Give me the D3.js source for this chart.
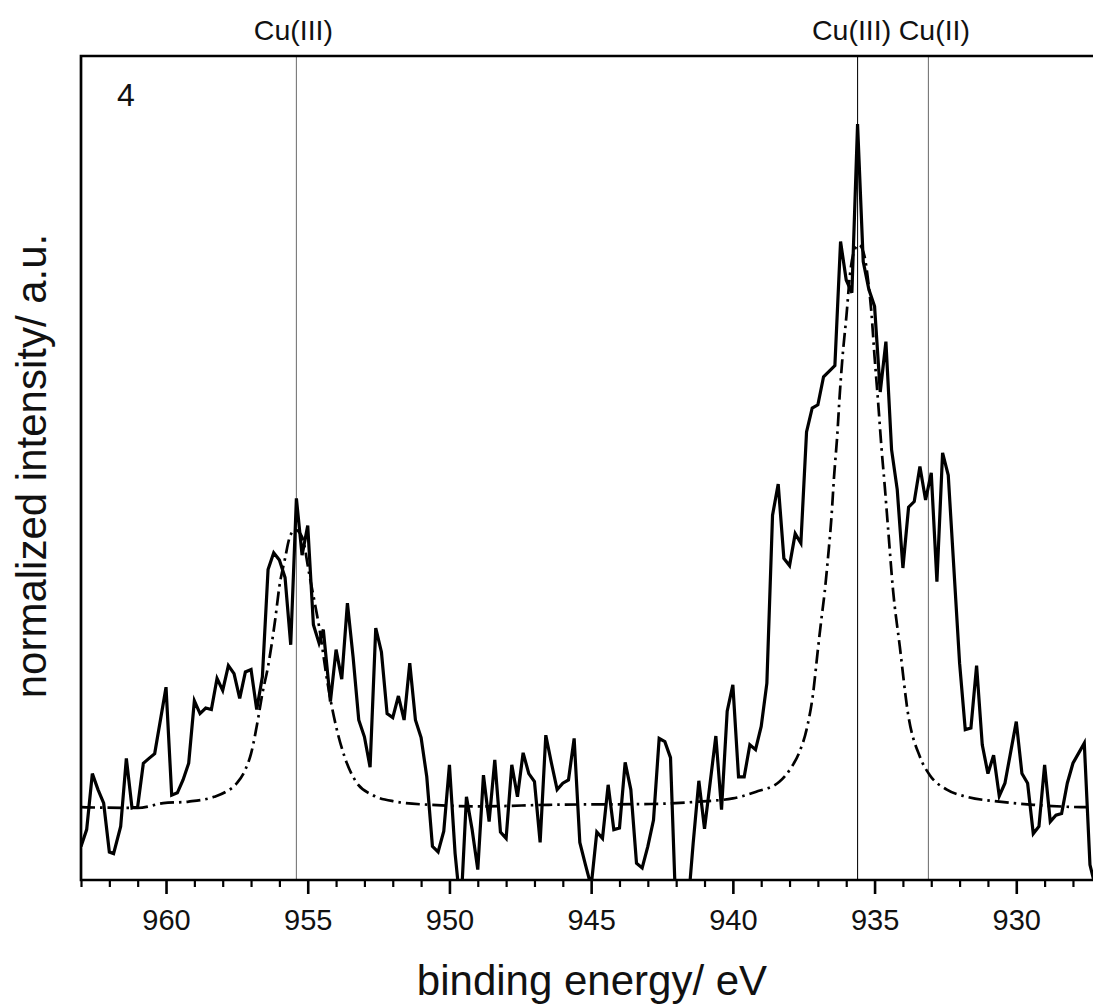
<!DOCTYPE html>
<html lang="en">
<head>
<meta charset="utf-8">
<script src="https://cdn.jsdelivr.net/npm/d3@7/dist/d3.min.js"></script>
<style>
  body { margin: 0; background: #fff; }
  svg { display: block; font-family: "Liberation Sans", Arial, sans-serif; }
</style>
</head>
<body>
<script>
// measured spectrum (binding energy in eV, normalized intensity a.u.)
var energy = [
  963.0, 962.8, 962.6, 962.4, 962.2, 962.0, 961.85, 961.6, 961.4, 961.2,
  961.0, 960.8, 960.6, 960.4, 960.0, 959.8, 959.6, 959.4, 959.2, 959.0,
  958.8, 958.6, 958.4, 958.2, 958.0, 957.8, 957.6, 957.4, 957.2, 957.0,
  956.8, 956.6, 956.4, 956.2, 956.0, 955.8, 955.6, 955.4, 955.2, 955.0,
  954.8, 954.6, 954.45, 954.2, 954.0, 953.8, 953.6, 953.4, 953.2, 953.0,
  952.8, 952.6, 952.4, 952.2, 952.0, 951.8, 951.6, 951.4, 951.2, 951.0,
  950.8, 950.6, 950.4, 950.2, 950.0, 949.8, 949.6, 949.4, 949.2, 949.0,
  948.8, 948.6, 948.4, 948.2, 948.0, 947.8, 947.6, 947.4, 947.2, 947.0,
  946.8, 946.6, 946.4, 946.2, 946.0, 945.8, 945.6, 945.4, 945.2, 945.0,
  944.8, 944.6, 944.4, 944.2, 944.0, 943.8, 943.6, 943.4, 943.2, 943.0,
  942.8, 942.6, 942.4, 942.2, 942.0, 941.6, 941.4, 941.2, 941.0, 940.6,
  940.4, 940.2, 940.0, 939.8, 939.6, 939.4, 939.2, 939.0, 938.8, 938.6,
  938.4, 938.2, 938.0, 937.8, 937.6, 937.4, 937.2, 937.0, 936.8, 936.4,
  936.2, 936.0, 935.8, 935.6, 935.4, 935.2, 935.0, 934.8, 934.6, 934.4,
  934.2, 934.0, 933.8, 933.6, 933.4, 933.2, 933.0, 932.8, 932.6, 932.4,
  932.0, 931.8, 931.6, 931.4, 931.2, 931.0, 930.8, 930.6, 930.4, 930.0,
  929.8, 929.6, 929.4, 929.2, 929.0, 928.8, 928.6, 928.4, 928.2, 928.0,
  927.6, 927.4, 927.2
];
var intensity = [
  4.2, 6.3, 13.3, 11.3, 9.6, 3.5, 3.3, 6.7, 15.2, 9.0,
  9.2, 14.6, 15.2, 15.8, 24.1, 10.6, 10.9, 12.5, 14.6, 22.4,
  20.8, 21.5, 21.3, 25.2, 23.7, 26.8, 25.8, 22.7, 26.0, 26.3,
  21.3, 25.4, 38.8, 40.9, 40.0, 37.8, 29.4, 47.7, 40.6, 44.3,
  31.9, 29.6, 31.3, 22.3, 28.8, 25.1, 34.6, 27.9, 20.0, 17.9,
  14.1, 31.5, 28.5, 20.8, 20.3, 23.0, 20.0, 27.1, 20.0, 17.8,
  12.9, 4.2, 3.5, 6.1, 14.4, 3.3, -3.8, 10.4, 6.3, 1.3,
  13.1, 7.3, 15.0, 6.0, 5.2, 14.4, 10.4, 15.9, 13.3, 12.3,
  4.7, 18.1, 14.6, 11.3, 12.1, 12.5, 17.7, 4.7, 1.9, -0.8,
  6.0, 5.2, 11.9, 6.3, 6.5, 14.7, 11.3, 2.1, 1.5, 4.2,
  7.5, 17.7, 17.3, 15.3, -5.0, -4.0, 4.6, 12.4, 6.4, 18.0,
  8.8, 21.1, 24.4, 12.9, 12.9, 16.9, 16.3, 19.2, 24.6, 45.6,
  49.5, 40.2, 39.3, 43.3, 42.1, 56.0, 59.0, 59.4, 62.9, 64.3,
  79.8, 75.0, 73.4, 94.5, 77.3, 73.8, 71.7, 61.0, 67.3, 53.8,
  48.8, 39.0, 46.6, 47.3, 51.7, 47.5, 50.9, 37.3, 53.4, 50.6,
  27.1, 18.8, 19.0, 26.8, 16.9, 13.3, 15.6, 10.5, 12.1, 19.8,
  13.3, 12.1, 5.8, 6.7, 14.4, 7.3, 8.1, 8.3, 12.1, 14.6,
  17.1, 1.9, -1.0
];

// fitted envelope (dash-dot)
var fitEnergy = [
  963.0, 961.0, 960.1, 959.2, 958.3, 957.9, 957.5, 957.2, 957.0, 956.75,
  956.6, 956.4, 956.15, 956.0, 955.8, 955.65, 955.45, 955.2, 954.95, 954.75,
  954.6, 954.3, 954.0, 953.7, 953.3, 952.7, 951.9, 950.7, 948.9, 946.5,
  942.9, 941.2, 940.0, 939.2, 938.35, 937.95, 937.65, 937.4, 937.17, 937.0,
  936.88, 936.76, 936.64, 936.52, 936.43, 936.32, 936.23, 936.13, 935.99, 935.87,
  935.7, 935.55, 935.35, 935.23, 935.11, 935.0, 934.88, 934.76, 934.64, 934.52,
  934.35, 934.11, 933.82, 933.4, 933.05, 932.45, 931.75, 930.6, 929.4, 927.4,
  927.0
];
var fitIntensity = [
  9.1, 9.0, 9.6, 9.8, 10.4, 11.0, 12.1, 13.8, 15.8, 20.2,
  23.3, 26.7, 32.5, 36.7, 40.2, 42.7, 43.8, 42.9, 38.3, 34.6,
  31.7, 24.6, 19.2, 15.4, 12.3, 10.6, 9.8, 9.4, 9.2, 9.4,
  9.5, 9.8, 10.2, 11.0, 12.3, 14.0, 16.0, 18.8, 23.3, 28.8,
  32.5, 36.0, 40.4, 45.4, 50.4, 55.4, 60.6, 65.4, 70.6, 75.6,
  78.8, 79.4, 77.9, 75.0, 70.9, 65.4, 60.0, 54.2, 49.2, 43.8,
  36.3, 29.2, 20.8, 15.4, 13.1, 11.3, 10.4, 9.8, 9.4, 9.1,
  9.1
];

// reference lines and their labels
var refEnergy = [955.4, 935.6, 933.1];
var refLabel = ["Cu(III)", "Cu(III)", "Cu(II)"];
var refColor = ["#777", "#111", "#777"];
var refShift = [-3, -6, 6];

var majorTicks = [960, 955, 950, 945, 940, 935, 930];
var minorTicks = d3.range(927, 964, 1).filter(function(d) { return d % 5 !== 0; });

var w = 1093, h = 1005;
var plotLeft = 81, plotTop = 56, plotBottom = 880, plotRight = 1101.3;

var x = d3.scaleLinear().domain([963, 927]).range([plotLeft, plotRight]);
var y = d3.scaleLinear().domain([0, 103]).range([plotBottom, plotTop]);

var svg = d3.select("body").append("svg")
  .attr("width", w)
  .attr("height", h);

svg.append("clipPath").attr("id", "plot")
  .append("rect")
  .attr("x", plotLeft).attr("y", plotTop)
  .attr("width", plotRight - plotLeft).attr("height", plotBottom - plotTop);

// vertical reference lines
svg.selectAll(".ref")
  .data(refEnergy)
  .enter().append("line")
  .attr("class", "ref")
  .attr("x1", function(d) { return x(d); })
  .attr("x2", function(d) { return x(d); })
  .attr("y1", plotTop)
  .attr("y2", plotBottom)
  .attr("stroke", function(d, i) { return refColor[i]; })
  .attr("stroke-width", 1.1);

svg.selectAll(".refLabel")
  .data(refEnergy)
  .enter().append("text")
  .attr("class", "refLabel")
  .attr("x", function(d, i) { return x(d) + refShift[i]; })
  .attr("y", 40)
  .attr("text-anchor", "middle")
  .style("font-size", "28.5px")
  .attr("fill", "#111")
  .text(function(d, i) { return refLabel[i]; });

var g = svg.append("g").attr("clip-path", "url(#plot)");

// fit curve
var fitLine = d3.line()
  .x(function(d, i) { return x(fitEnergy[i]); })
  .y(function(d) { return y(d); })
  .curve(d3.curveMonotoneX);

g.append("path")
  .datum(fitIntensity)
  .attr("d", fitLine)
  .attr("fill", "none")
  .attr("stroke", "#000")
  .attr("stroke-width", 2.7)
  .attr("stroke-dasharray", "14,5,2.5,5");

// spectrum
var specLine = d3.line()
  .x(function(d, i) { return x(energy[i]); })
  .y(function(d) { return y(d); });

g.append("path")
  .datum(intensity)
  .attr("d", specLine)
  .attr("fill", "none")
  .attr("stroke", "#000")
  .attr("stroke-width", 3.2);

// x axis: minor then major ticks
svg.append("g")
  .attr("transform", "translate(0," + plotBottom + ")")
  .call(d3.axisBottom(x).tickValues(minorTicks).tickSize(7).tickFormat(""))
  .call(function(a) {
    a.select(".domain").remove();
    a.selectAll("line").attr("stroke", "#000").attr("stroke-width", 2.2);
  });

svg.append("g")
  .attr("transform", "translate(0," + plotBottom + ")")
  .call(d3.axisBottom(x).tickValues(majorTicks).tickSize(14).tickPadding(15))
  .call(function(a) {
    a.select(".domain").remove();
    a.selectAll("line").attr("stroke", "#000").attr("stroke-width", 2.6);
    a.selectAll("text")
      .style("font-size", "29px")
      .style("font-family", "'Liberation Sans', Arial, sans-serif")
      .attr("fill", "#111");
  });

// frame (left, top, bottom)
svg.append("path")
  .attr("d", "M" + plotRight + "," + plotTop + "H" + plotLeft + "V" + plotBottom + "H" + plotRight)
  .attr("fill", "none")
  .attr("stroke", "#000")
  .attr("stroke-width", 2.7);

// panel number
svg.append("text")
  .attr("x", 117)
  .attr("y", 106)
  .style("font-size", "32px")
  .attr("fill", "#111")
  .text("4");

// axis titles
svg.append("text")
  .attr("x", 592)
  .attr("y", 995)
  .attr("text-anchor", "middle")
  .style("font-size", "42px")
  .attr("fill", "#111")
  .text("binding energy/ eV");

svg.append("text")
  .attr("transform", "translate(46,466) rotate(-90)")
  .attr("text-anchor", "middle")
  .style("font-size", "42px")
  .attr("fill", "#111")
  .text("normalized intensity/ a.u.");
</script>
</body>
</html>
